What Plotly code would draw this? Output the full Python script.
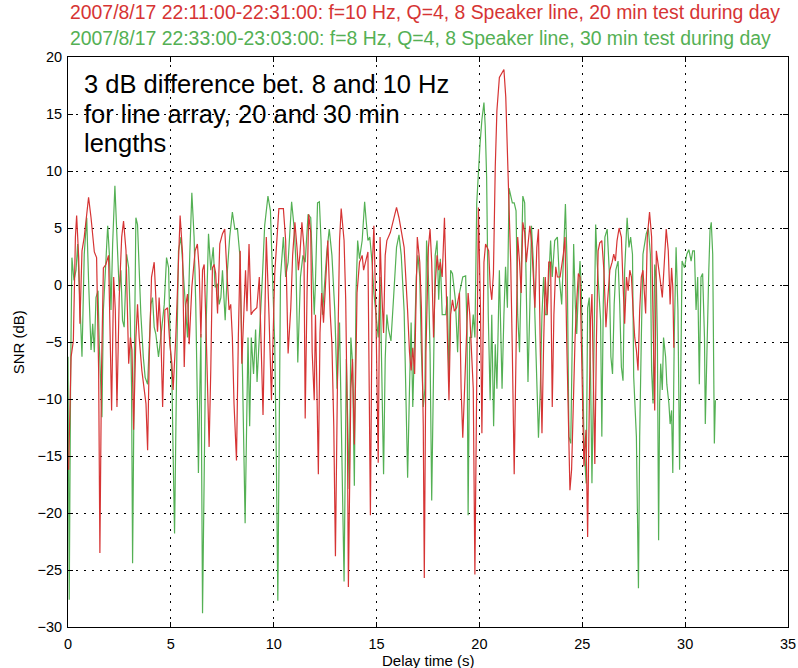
import plotly.graph_objects as go

# ---- data: (delay time s, SNR dB) ----
red_xy = [
    (0.03,-16.2),(0.15,-6.3),(0.26,-4.9),(0.36,4.2),(0.42,6.1),(0.52,2.4),(0.58,-3.4),(0.68,3.0),(0.79,4.2),(0.91,6.5),
    (1.0,7.7),(1.12,5.9),(1.28,2.9),(1.39,2.4),(1.49,-7.5),(1.55,-23.5),(1.63,-7.5),(1.72,1.5),(1.84,1.8),(1.97,2.6),
    (2.06,-4.6),(2.12,-11.0),(2.22,0.7),(2.3,-2.2),(2.38,-10.7),(2.49,-1.1),(2.61,4.2),(2.7,5.6),(2.82,3.0),(2.95,-6.9),
    (3.03,-4.6),(3.11,-5.7),(3.19,-12.7),(3.3,-4.6),(3.38,-1.7),(3.46,-4.6),(3.59,-7.5),(3.71,-9.0),(3.79,-10.4),(3.87,-14.5),
    (3.95,-6.3),(4.06,0.7),(4.19,2.0),(4.27,-1.1),(4.35,-4.1),(4.43,-1.1),(4.51,-4.0),(4.6,-10.7),(4.71,-2.2),(4.84,-2.0),
    (4.95,-5.2),(5.05,-6.9),(5.11,-9.2),(5.24,-4.6),(5.36,2.7),(5.45,6.1),(5.57,2.7),(5.65,-7.2),(5.73,-1.7),(5.81,-0.8),
    (5.89,-5.2),(6.02,-0.2),(6.18,3.0),(6.29,3.6),(6.38,1.3),(6.46,-4.6),(6.54,1.3),(6.62,1.8),(6.7,-3.1),(6.78,-9.0),
    (6.86,-14.2),(6.94,-7.5),(7.02,1.5),(7.1,1.8),(7.18,1.0),(7.27,-2.5),(7.38,3.6),(7.51,4.5),(7.62,4.9),(7.72,1.3),
    (7.83,-2.2),(7.91,-1.7),(7.99,-4.6),(8.07,-10.4),(8.19,-15.4),(8.28,-4.6),(8.37,3.0),(8.45,-6.9),
    (8.53,-2.6),(8.63,1.3),(8.7,-2.3),(8.8,3.6),(8.9,-2.6),(9.0,-2.3),(9.18,-2),(9.3,0.7),(9.48,-11.4),(9.64,4.2),
    (9.77,-2.6),(9.89,-10.1),(10.05,1),(10.17,4.6),(10.25,6.7),(10.47,6.7),(10.58,3.9),(10.7,-6),(10.83,-2),(10.92,2.6),
    (11.03,5.5),(11.13,3.3),(11.2,1.3),(11.27,2.6),(11.37,5.5),(11.47,3.3),(11.53,-11.7),(11.62,-0.7),(11.7,6.2),(11.8,4.6),
    (11.87,-5.9),(11.97,-10.1),(12.03,-2.6),(12.1,-9.1),(12.17,-16.6),(12.25,-4.2),(12.33,-0.7),(12.42,-3.3),(12.5,-0.7),(12.63,3.9),
    (12.75,-2.6),(12.83,-5.2),(12.92,-12.4),(13.0,-23.8),(13.12,-5.2),(13.2,3.9),(13.28,6.7),(13.42,3.9),(13.5,-1.3),(13.58,-12.4),
    (13.63,-26.5),(13.75,-9.1),(13.83,-6.5),(13.92,-14),(14.0,-6.5),(14.05,-0.7),(14.17,2),(14.3,2.6),(14.37,1.3),(14.47,2),
    (14.58,2.9),(14.7,-20.2),(14.8,2),(14.87,5.2),(14.97,-2.6),(15.08,-15.6),(15.17,4.2),(15.25,-0.5),(15.34,-4.2),(15.42,2.6),
    (15.5,3.9),(15.67,4.6),(15.8,5.5),(15.97,6.8),(16.09,5.9),(16.2,4.9),(16.34,3.3),(16.51,-2.3),(16.6,-5.9),(16.68,-7.5),
    (16.76,-5.5),(16.85,-7.8),(16.98,4.2),(17.1,2),(17.18,-2),(17.27,-12.4),(17.32,-25.7),(17.4,-5.9),(17.52,3.3),(17.6,4.9),
    (17.68,2),(17.77,-4.6),(17.85,0),(17.94,2.6),(18.02,1.3),(18.1,2),(18.19,0.7),(18.3,5.9),(18.4,-2.6),(18.52,-10.1),
    (18.6,-2.6),(18.69,-1.3),(18.78,-2.3),(18.89,-2),(19.03,-0.7),(19.11,-9.1),(19.19,-13.4),(19.33,-5.9),(19.45,-0.7),(19.53,-2.6),
    (19.62,-5.9),(19.7,-9.1),(19.78,-25.4),(19.87,-9.1),(19.95,6.8),(20.05,-2),(20.12,-13),(20.22,2.0),(20.3,3.6),(20.45,3),
    (20.52,0),(20.6,-1.3),(20.68,1),(20.77,10.4),(20.85,15.3),(20.97,18.2),(21.08,18.5),(21.19,18.9),(21.28,16.5),(21.36,12),
    (21.44,7.2),(21.52,2),(21.6,-5.9),(21.69,-16.6),(21.78,-5.9),(21.86,4.2),(21.95,2),(22.03,-0.7),(22.11,5.5),(22.2,4.6),
    (22.28,2),(22.36,3.9),(22.45,5.2),(22.53,3.9),(22.62,0.7),(22.7,-2),(22.79,3.3),(22.87,4.9),(22.96,-5.9),(23.04,-13),
    (23.12,-5.2),(23.2,0.7),(23.29,-2.6),(23.37,2),(23.46,2),(23.54,-10.7),(23.62,-2.6),(23.71,1.6),(23.79,0.7),(23.92,0.7),
    (24.08,2.7),(24.16,4.2),(24.24,-4.6),(24.32,-13.3),(24.4,-18.0),(24.48,-16.2),(24.56,-10.4),(24.65,-4.6),(24.73,-1.4),(24.81,1.0),
    (24.89,0.7),(24.94,-4.6),(25.0,-10.4),(25.08,-15.9),(25.18,-12.7),(25.26,-22.1),(25.32,-13.3),(25.4,-3.1),(25.47,-0.8),(25.53,-7.5),
    (25.61,-15.7),(25.69,-4.6),(25.77,3.0),(25.85,3.7),(25.95,3.9),(26.05,1.3),(26.15,-3.7),(26.23,-1.4),(26.34,1.3),(26.45,2.0),
    (26.53,2.7),(26.61,2.1),(26.69,3.9),(26.79,5.0),(26.9,4.2),(26.98,0.1),(27.06,-3.4),(27.15,0.7),(27.23,-0.5),(27.31,1.3),
    (27.39,0.7),(27.47,-2.2),(27.55,-4.6),(27.63,-5.7),(27.71,-7.5),(27.79,-2.2),(27.87,0.7),(27.95,1.3),(28.03,-1.1),(28.08,-2.5),
    (28.16,4.2),(28.27,6.4),(28.37,4.2),(28.44,-1.7),(28.52,-11.0),(28.6,3.0),(28.69,1.5),(28.79,0.4),(28.89,-1.1),(29.0,2.7),
    (29.08,4.9),(29.18,3.0),(29.27,-1.7),(29.34,1.5),(29.4,-0.2),(29.45,-5.5),
]

green_xy = [
    (0.0,-6.3),(0.06,-27.6),(0.13,-7.5),(0.19,2.4),(0.29,0.4),(0.39,1.3),(0.47,3.6),(0.58,-1.7),(0.68,-6.3),(0.79,2.7),
    (0.91,5.9),(1.0,0.4),(1.12,-5.7),(1.2,-3.4),(1.28,-5.9),(1.36,-1.1),(1.46,-0.5),(1.52,-5.2),(1.65,-11.6),(1.72,-2.2),
    (1.81,1.3),(1.93,5.2),(2.01,2.7),(2.09,-2.2),(2.17,3.6),(2.28,8.7),(2.38,4.2),(2.49,-0.5),(2.57,1.3),(2.65,-3.1),
    (2.73,-3.7),(2.85,2.7),(2.95,1.5),(3.03,-3.1),(3.09,-9.0),(3.14,-24.4),(3.22,-7.5),(3.3,5.9),(3.38,5.3),(3.46,0.7),
    (3.54,-2.5),(3.66,-6.3),(3.75,-8.1),(3.87,-8.7),(3.95,-4.6),(4.03,-1.7),(4.11,-1.1),(4.19,-3.7),(4.27,-4.3),(4.4,-6.3),
    (4.51,-4.6),(4.68,-1.7),(4.79,2.4),(4.89,1.5),(4.97,-5.2),(5.05,-8.1),(5.11,-14.8),(5.18,-21.8),(5.28,-7.5),(5.37,3.0),
    (5.49,4.2),(5.6,1.3),(5.7,-1.7),(5.81,-4.6),(5.92,2.7),(6.02,8.1),(6.13,4.2),(6.21,-1.7),(6.29,-10.4),(6.34,-16.5),
    (6.41,-9.0),(6.46,-4.3),(6.54,-28.8),(6.62,-13.3),(6.7,-4.6),(6.83,4.5),(6.94,1.3),(7.06,3.3),(7.15,-0.2),(7.27,0.1),
    (7.35,-1.7),(7.43,-1.1),(7.51,1.3),(7.64,-3.1),(7.75,1.3),(7.86,4.2),(7.99,6.4),(8.11,4.9),(8.24,4.9),(8.35,2.7),
    (8.48,-7.5),(8.61,-20.9),
    (8.75,-4.6),(8.83,-12.4),(8.91,-4.6),(9.02,-7.8),(9.12,-3.9),(9.19,-8.5),(9.32,-4.2),(9.45,0.7),(9.56,5.2),(9.72,7.8),
    (9.84,6.5),(9.97,0),(10.05,-5.2),(10.13,-15.6),(10.2,-27.7),(10.33,0.7),(10.47,4.2),(10.58,0.7),(10.7,2),(10.87,7.3),
    (11.0,4.9),(11.08,2),(11.17,-6.8),(11.3,0.7),(11.42,2.6),(11.53,2),(11.67,6.2),(11.8,5.9),(11.87,2.3),(11.97,-2.6),
    (12.03,0.3),(12.13,7.2),(12.22,7.3),(12.3,3.9),(12.37,-2.6),(12.5,1),(12.58,2.9),(12.7,4.9),(12.83,2.6),(12.97,-2.3),
    (13.08,-9.1),(13.2,-3.3),(13.3,-15),(13.42,-26),(13.53,-6.5),(13.67,-17.9),(13.75,-4.6),(13.83,-6.8),(13.92,-17.6),(14.0,-0.7),
    (14.08,3.9),(14.17,2.3),(14.3,3.9),(14.42,7.3),(14.5,5.5),(14.58,3.9),(14.67,4.2),(14.78,2),(14.87,-0.7),(14.97,-2.6),
    (15.08,-4.6),(15.17,0.7),(15.25,-9.1),(15.34,-16.6),(15.42,-6.5),(15.5,-2.6),(15.58,-3.9),(15.7,-4.9),(15.84,-0.7),(15.97,3.3),
    (16.09,4.4),(16.2,2.6),(16.34,-2.3),(16.43,-9.1),(16.51,-16.9),(16.6,-9.1),(16.68,-3.3),(16.76,-10.7),(16.85,-5.2),(16.93,0.7),
    (17.01,2.6),(17.1,0.7),(17.18,-5.9),(17.27,-10.7),(17.35,-9.1),(17.43,3.9),(17.52,0.7),(17.6,-5.9),(17.68,-18.9),(17.77,-5.9),
    (17.85,2.6),(17.94,3.9),(18.02,-1.3),(18.1,2.3),(18.19,-2.6),(18.36,-2.6),(18.44,-1),(18.52,-8.5),(18.6,1.3),(18.69,1),
    (18.83,-1.3),(18.94,-5.9),(19.03,-0.7),(19.19,0.7),(19.33,0.8),(19.4,-4.2),(19.45,-20.2),(19.53,-4.6),(19.62,-4.6),(19.7,-2.6),
    (19.78,-4.6),(19.87,7.2),(19.95,10.1),(20.03,12.4),(20.12,14.5),(20.22,16),(20.28,14),(20.35,9.4),(20.43,-2.6),(20.52,-10.1),
    (20.6,-2.6),(20.69,-12.4),(20.77,-5.2),(20.85,-9.1),(20.97,1.3),(21.02,-2.6),(21.1,-9.1),(21.19,-2.6),(21.27,1.6),(21.36,-2),
    (21.44,8.5),(21.6,7.2),(21.69,7.2),(21.78,6.5),(21.86,-2.6),(21.95,-5.9),(22.03,1),(22.11,7.8),(22.2,7.2),(22.28,0.7),
    (22.36,-8.5),(22.45,-2),(22.53,5.2),(22.62,2),(22.7,-2.6),(22.79,-9.1),(22.87,-13.4),(22.96,-9.1),(23.04,-2.6),(23.12,0.7),
    (23.2,-2.6),(23.29,-2.6),(23.46,3.9),(23.54,0.7),(23.66,3.9),(23.79,4.2),(23.88,0.7),
    (24.0,-1.7),(24.08,2.7),(24.18,7.1),(24.27,1.3),(24.35,-13.3),(24.44,-13.9),(24.5,-4.6),(24.58,3.6),(24.66,-1.7),(24.73,-4.3),
    (24.81,-0.5),(24.89,2.1),(24.95,-0.2),(25.02,-8.1),(25.08,-13.3),(25.15,-16.2),(25.19,-17.4),(25.26,-2.0),(25.34,-1.1),(25.4,-7.5),
    (25.47,-17.4),(25.53,-10.4),(25.58,-4.6),(25.65,5.3),(25.73,1.8),(25.82,-1.7),(25.89,-3.1),(25.95,-13.3),(26.02,-1.7),(26.1,4.2),
    (26.21,4.9),(26.31,1.3),(26.39,-6.3),(26.47,-7.8),(26.55,-1.7),(26.63,1.3),(26.74,2.1),(26.82,-1.7),(26.9,-7.2),(26.98,-8.4),
    (27.06,1.3),(27.18,5.9),(27.27,3.3),(27.35,4.2),(27.44,2.7),(27.5,-8.1),(27.56,-10.4),(27.63,-13.3),(27.73,-26.6),(27.79,-13.3),
    (27.87,-4.6),(27.95,2.7),(28.03,3.6),(28.11,4.5),(28.21,5.0),(28.31,2.7),(28.37,-7.5),(28.44,-10.4),(28.52,1.8),(28.6,0.4),
    (28.65,-4.6),(28.71,-22.4),(28.76,-10.4),(28.81,-6.9),(28.89,-9.2),(28.95,-4.6),(29.05,-6.3),(29.11,-8.7),(29.21,-10.4),(29.27,-12.2),
    (29.34,-11.0),(29.4,-16.5),(29.47,-4.6),(29.56,3.3),(29.65,-2.2),(29.73,-16.2),(29.79,-7.5),(29.85,2.1),(29.97,1.5),(30.08,2.7),
    (30.18,3.1),(30.29,2.1),(30.37,3.0),(30.45,3.0),(30.53,-2.2),(30.61,0.7),(30.69,-8.7),(30.77,0.7),(30.85,1.0),(30.94,-4.6),
    (30.98,-12.2),(31.06,-4.6),(31.15,1.3),(31.21,4.8),(31.27,5.5),(31.34,2.7),(31.39,-7.5),(31.42,-13.9),(31.47,-10.1),
]

red_x = [p[0] for p in red_xy]
red_y = [p[1] for p in red_xy]
green_x = [p[0] for p in green_xy]
green_y = [p[1] for p in green_xy]

x_ticks = [0, 5, 10, 15, 20, 25, 30, 35]
y_ticks = [-30, -25, -20, -15, -10, -5, 0, 5, 10, 15, 20]

red_title = "2007/8/17 22:11:00-22:31:00: f=10 Hz, Q=4, 8 Speaker line, 20 min test during day"
green_title = "2007/8/17 22:33:00-23:03:00: f=8 Hz, Q=4, 8 Speaker line, 30 min test during day"
note_lines = ["3 dB difference bet. 8 and 10 Hz", "for line array, 20 and 30 min", "lengths"]
x_title = "Delay time (s)"
y_title = "SNR (dB)"

RED = "rgb(214,52,52)"
GREEN = "rgb(84,176,84)"
FONT = "Liberation Sans, Arial, sans-serif"

fig = go.Figure()
fig.add_trace(go.Scatter(x=green_x, y=green_y, mode="lines",
                         line=dict(color=GREEN, width=1.2), showlegend=False))
fig.add_trace(go.Scatter(x=red_x, y=red_y, mode="lines",
                         line=dict(color=RED, width=1.2), showlegend=False))

axis_common = dict(showgrid=True, gridcolor="black", griddash="1.5px,6.5px", gridwidth=1,
                   zeroline=False, showline=True, linecolor="black", linewidth=1,
                   mirror="allticks", ticks="inside", ticklen=5, tickcolor="black",
                   automargin=False,
                   tickfont=dict(family=FONT, size=14.5, color="black"))

fig.update_xaxes(range=[0, 35], tickvals=x_ticks, ticklabelstandoff=4, **axis_common)
fig.update_yaxes(range=[-30, 20], tickvals=y_ticks, ticklabelstandoff=2, **axis_common)

annotations = [
    dict(text=red_title, xref="paper", yref="paper", x=0, y=1.079, xanchor="left", yanchor="middle",
         showarrow=False, font=dict(family=FONT, size=19.4, color=RED)),
    dict(text=green_title, xref="paper", yref="paper", x=0, y=1.033, xanchor="left", yanchor="middle",
         showarrow=False, font=dict(family=FONT, size=19.4, color=GREEN)),
    dict(text=x_title, xref="paper", yref="paper", x=0.5, y=-0.058, xanchor="center", yanchor="middle",
         showarrow=False, font=dict(family=FONT, size=15, color="black")),
    dict(text=y_title, xref="paper", yref="paper", x=-0.069, y=0.5, xanchor="center", yanchor="middle",
         textangle=-90, showarrow=False, font=dict(family=FONT, size=15, color="black")),
]
for txt, yy in zip(note_lines, [17.63, 15.0, 12.5]):
    annotations.append(dict(text=txt, xref="x", yref="y", x=0.68, y=yy, xanchor="left", yanchor="middle",
                            showarrow=False, font=dict(family=FONT, size=25.5, color="black")))

fig.update_layout(width=798, height=668, margin=dict(l=68, r=10, t=57, b=41),
                  plot_bgcolor="white", paper_bgcolor="white", annotations=annotations)

fig.write_html("out.html", config={"displayModeBar": False},
               post_script="document.body.style.margin='0px';document.body.style.overflow='hidden';")
